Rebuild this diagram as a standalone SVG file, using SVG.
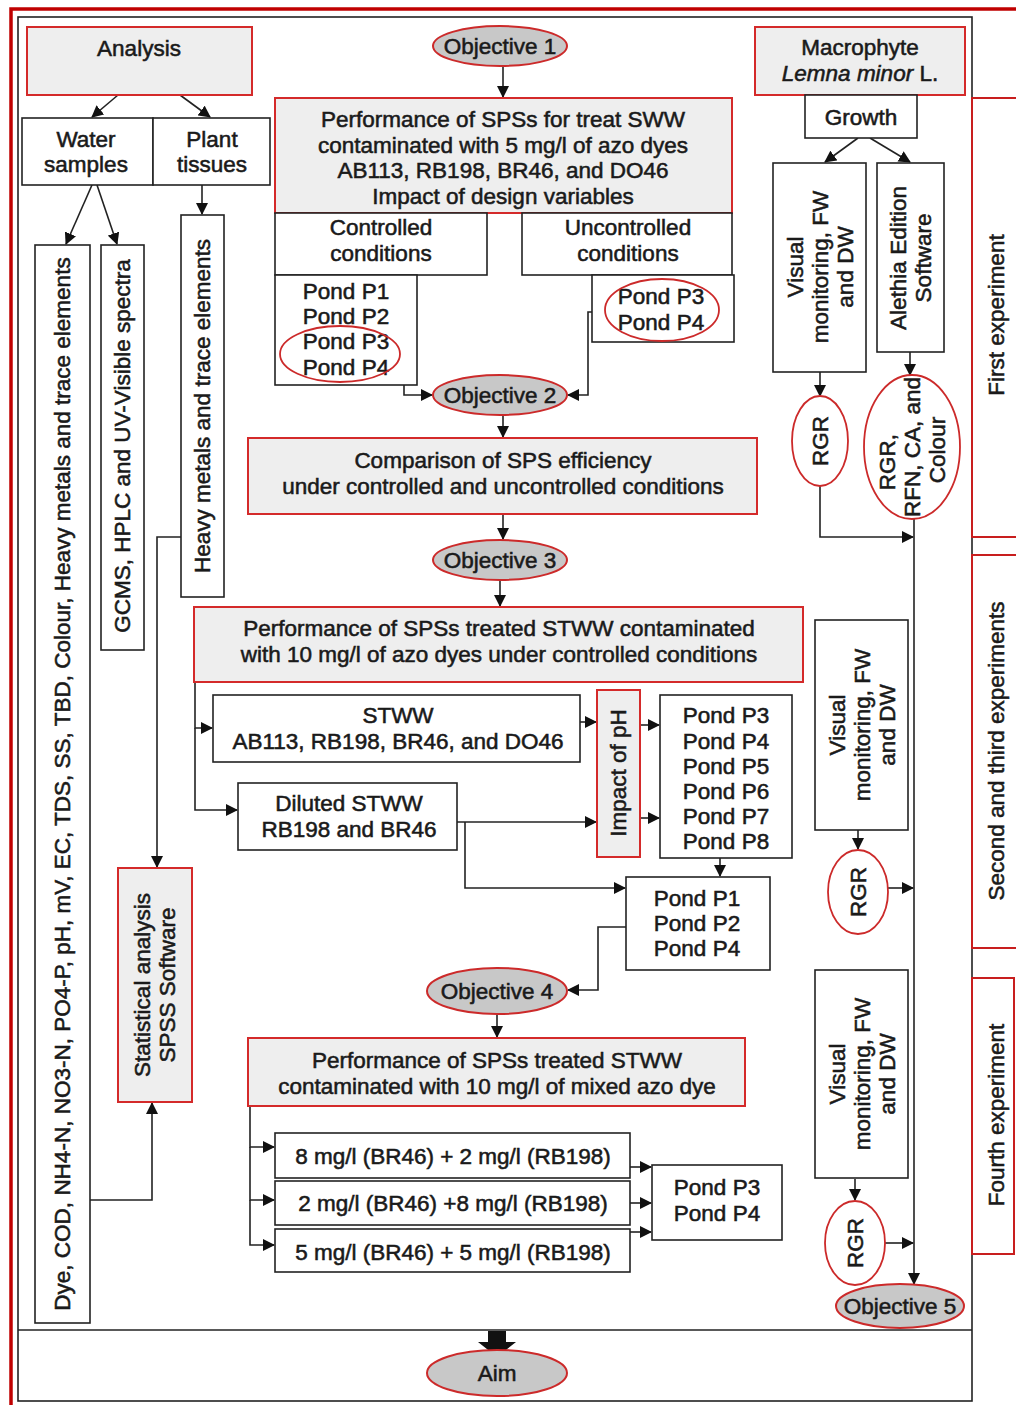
<svg xmlns="http://www.w3.org/2000/svg" width="1016" height="1405" viewBox="0 0 1016 1405">
<style>
text{font-family:"Liberation Sans",Arial,sans-serif;font-size:22.5px;fill:#1a1a1a;stroke:#1a1a1a;stroke-width:0.55;text-anchor:middle}
.box{fill:#fff;stroke:#222;stroke-width:1.6}
.rbox{fill:#eeeeee;stroke:#d42a2a;stroke-width:2}
.obj{fill:#c8c8c8;stroke:#cc2a2a;stroke-width:2}
.rell{fill:none;stroke:#cc2a2a;stroke-width:1.8}
.rell2{fill:#fff;stroke:#cc2a2a;stroke-width:1.8}
.ln{fill:none;stroke:#222;stroke-width:1.6;marker-end:url(#ah)}
.frame{fill:none;stroke:#222;stroke-width:1.6}
.red{fill:none;stroke:#c81e1e;stroke-width:2}
</style>
<defs>
<marker id="ah" markerUnits="userSpaceOnUse" markerWidth="12" markerHeight="12" refX="11" refY="6" orient="auto">
<path d="M0,0 L12,6 L0,12 z" fill="#111"/>
</marker>
</defs>
<rect width="1016" height="1405" fill="#fff"/>
<g id="frame">
<path d="M11,1405 V9 H1016" fill="none" stroke="#c00000" stroke-width="3.5"/>
<rect class="frame" x="18" y="17" width="954" height="1384"/>
<line class="frame" x1="18" y1="1330" x2="972" y2="1330"/>
</g>
<g id="exp1"><rect class="red" x="972" y="98" width="60" height="439"/><text transform="translate(996,315) rotate(-90)" y="8" font-size="21">First experiment</text></g>
<g id="exp2"><rect class="red" x="972" y="555" width="60" height="393"/><text transform="translate(996,751) rotate(-90)" y="8" font-size="21">Second and third experiments</text></g>
<g id="exp3"><rect class="red" x="972" y="978" width="42" height="276"/><text transform="translate(996,1115) rotate(-90)" y="8" font-size="21">Fourth experiment</text></g>

<g id="connectors">
<path class="ln" d="M118,95 L92,117"/>
<path class="ln" d="M180,95 L210,117"/>
<path class="ln" d="M92,185 L66,244"/>
<path class="ln" d="M97,185 L117,244"/>
<path class="ln" d="M202,185 L202,214"/>
<path class="ln" d="M181,537 L157,537 L157,867"/>
<path class="ln" d="M90,1200 L152,1200 L152,1103"/>
<path class="ln" d="M503,66 L503,97"/>
<path class="ln" d="M398,345 L404,345 L404,395 L432,395"/>
<path class="ln" d="M605,312 L588,312 L588,395 L568,395"/>
<path class="ln" d="M503,415 L503,437"/>
<path class="ln" d="M503,514 L503,539"/>
<path class="ln" d="M500,580 L500,606"/>
<path class="ln" d="M195,682 L195,728 L212,728"/>
<path class="ln" d="M195,728 L195,810 L237,810"/>
<path class="ln" d="M580,722 L596,722"/>
<path class="ln" d="M457,822 L596,822"/>
<path class="ln" d="M640,725 L659,725"/>
<path class="ln" d="M640,818 L659,818"/>
<path class="ln" d="M465,822 L465,888 L625,888"/>
<path class="ln" d="M720,858 L720,876"/>
<path class="ln" d="M626,927 L598,927 L598,990 L568,990"/>
<path class="ln" d="M497,1014 L497,1037"/>
<path class="ln" d="M250,1106 L250,1147 L274,1147"/>
<path class="ln" d="M250,1147 L250,1200 L274,1200"/>
<path class="ln" d="M250,1200 L250,1245 L274,1245"/>
<path class="ln" d="M630,1167 L651,1167"/>
<path class="ln" d="M630,1203 L651,1203"/>
<path class="ln" d="M630,1232 L651,1232"/>
<path class="ln" d="M858,138 L825,162"/>
<path class="ln" d="M870,138 L910,162"/>
<path class="ln" d="M820,372 L820,396"/>
<path class="ln" d="M910,352 L910,375"/>
<path class="ln" d="M820,486 L820,537 L913,537"/>
<path class="ln" d="M914,519 L914,1284"/>
<path class="ln" d="M858,830 L858,849"/>
<path class="ln" d="M888,888 L913,888"/>
<path class="ln" d="M855,1179 L855,1200"/>
<path class="ln" d="M885,1243 L913,1243"/>
<path d="M488,1331 H506 V1342 H516 L497,1357 L478,1342 H488 Z" fill="#111"/>
</g>

<g id="analysis"><rect class="rbox" x="27" y="27" width="225" height="68"/><text x="139" y="56">Analysis</text></g>
<g id="water"><rect class="box" x="22" y="118" width="131" height="67"/><text x="86" y="147">Water</text><text x="86" y="172">samples</text></g>
<g id="plant"><rect class="box" x="153" y="118" width="117" height="67"/><text x="212" y="147">Plant</text><text x="212" y="172">tissues</text></g>
<g id="waterparams"><rect class="box" x="35" y="245" width="55" height="1078"/><text transform="translate(62,784) rotate(-90)" y="8">Dye, COD, NH4-N, NO3-N, PO4-P, pH, mV, EC, TDS, SS, TBD, Colour, Heavy metals and trace elements</text></g>
<g id="gcms"><rect class="box" x="101" y="245" width="43" height="405"/><text transform="translate(122,446) rotate(-90)" y="8">GCMS, HPLC and UV-Visible spectra</text></g>
<g id="heavy"><rect class="box" x="181" y="215" width="43" height="382"/><text transform="translate(202,406) rotate(-90)" y="8">Heavy metals and trace elements</text></g>
<g id="stats"><rect class="rbox" x="118" y="868" width="74" height="234"/><text transform="translate(154,985) rotate(-90)" y="-4">Statistical analysis</text><text transform="translate(154,985) rotate(-90)" y="21">SPSS Software</text></g>

<g id="obj1"><ellipse class="obj" cx="500" cy="46" rx="67" ry="20"/><text x="500" y="54">Objective 1</text></g>
<g id="perf1"><rect class="rbox" x="275" y="98" width="457" height="115"/><text x="503" y="127">Performance of SPSs for treat SWW</text><text x="503" y="153">contaminated with 5 mg/l of azo dyes</text><text x="503" y="178">AB113, RB198, BR46, and DO46</text><text x="503" y="204">Impact of design variables</text></g>
<g id="controlled"><rect class="box" x="275" y="213" width="212" height="62"/><text x="381" y="235">Controlled</text><text x="381" y="261">conditions</text></g>
<g id="uncontrolled"><rect class="box" x="522" y="213" width="210" height="62"/><text x="628" y="235">Uncontrolled</text><text x="628" y="261">conditions</text></g>
<g id="pondsC"><rect class="box" x="275" y="275" width="142" height="110"/><text x="346" y="299">Pond P1</text><text x="346" y="324">Pond P2</text><text x="346" y="349">Pond P3</text><text x="346" y="375">Pond P4</text><ellipse class="rell" cx="340" cy="354" rx="60" ry="28"/></g>
<g id="pondsU"><rect class="box" x="592" y="275" width="142" height="67"/><text x="661" y="304">Pond P3</text><text x="661" y="330">Pond P4</text><ellipse class="rell" cx="662" cy="310" rx="57" ry="31"/></g>
<g id="obj2"><ellipse class="obj" cx="500" cy="395" rx="67" ry="20"/><text x="500" y="403">Objective 2</text></g>
<g id="comparison"><rect class="rbox" x="248" y="438" width="509" height="76"/><text x="503" y="468">Comparison of SPS efficiency</text><text x="503" y="494">under controlled and uncontrolled conditions</text></g>
<g id="obj3"><ellipse class="obj" cx="500" cy="560" rx="67" ry="20"/><text x="500" y="568">Objective 3</text></g>
<g id="perf3"><rect class="rbox" x="194" y="607" width="609" height="75"/><text x="499" y="636">Performance of SPSs treated STWW contaminated</text><text x="499" y="662">with 10 mg/l of azo dyes under controlled conditions</text></g>
<g id="stww"><rect class="box" x="213" y="695" width="367" height="67"/><text x="398" y="723">STWW</text><text x="398" y="749">AB113, RB198, BR46, and DO46</text></g>
<g id="diluted"><rect class="box" x="238" y="783" width="219" height="67"/><text x="349" y="811">Diluted STWW</text><text x="349" y="837">RB198 and BR46</text></g>
<g id="ph"><rect class="rbox" x="597" y="690" width="43" height="167"/><text transform="translate(618,773) rotate(-90)" y="8">Impact of pH</text></g>
<g id="ponds38"><rect class="box" x="660" y="695" width="132" height="163"/><text x="726" y="723">Pond P3</text><text x="726" y="749">Pond P4</text><text x="726" y="774">Pond P5</text><text x="726" y="799">Pond P6</text><text x="726" y="824">Pond P7</text><text x="726" y="849">Pond P8</text></g>
<g id="ponds124"><rect class="box" x="626" y="877" width="144" height="93"/><text x="697" y="906">Pond P1</text><text x="697" y="931">Pond P2</text><text x="697" y="956">Pond P4</text></g>
<g id="obj4"><ellipse class="obj" cx="497" cy="991" rx="70" ry="23"/><text x="497" y="999">Objective 4</text></g>
<g id="perf4"><rect class="rbox" x="248" y="1038" width="497" height="68"/><text x="497" y="1068">Performance of SPSs treated STWW</text><text x="497" y="1094">contaminated with 10 mg/l of mixed azo dye</text></g>
<g id="mix1"><rect class="box" x="275" y="1133" width="355" height="45"/><text x="453" y="1164">8 mg/l (BR46) + 2 mg/l (RB198)</text></g>
<g id="mix2"><rect class="box" x="275" y="1181" width="355" height="44"/><text x="453" y="1211">2 mg/l (BR46) +8 mg/l (RB198)</text></g>
<g id="mix3"><rect class="box" x="275" y="1229" width="355" height="43"/><text x="453" y="1260">5 mg/l (BR46) + 5 mg/l (RB198)</text></g>
<g id="ponds34"><rect class="box" x="652" y="1165" width="130" height="75"/><text x="717" y="1195">Pond P3</text><text x="717" y="1221">Pond P4</text></g>

<g id="macrophyte"><rect class="rbox" x="755" y="27" width="210" height="68"/><text x="860" y="55">Macrophyte</text><text x="860" y="81"><tspan font-style="italic">Lemna minor</tspan> L.</text></g>
<g id="growth"><rect class="box" x="805" y="95" width="112" height="43"/><text x="861" y="125">Growth</text></g>
<g id="visual1"><rect class="box" x="773" y="163" width="93" height="209"/><text transform="translate(820,267) rotate(-90)" y="-17">Visual</text><text transform="translate(820,267) rotate(-90)" y="8">monitoring, FW</text><text transform="translate(820,267) rotate(-90)" y="33">and DW</text></g>
<g id="alethia"><rect class="box" x="877" y="163" width="67" height="189"/><text transform="translate(910,258) rotate(-90)" y="-4">Alethia Edition</text><text transform="translate(910,258) rotate(-90)" y="21">Software</text></g>
<g id="rgr1"><ellipse class="rell2" cx="820" cy="441" rx="28" ry="45"/><text transform="translate(820,441) rotate(-90)" y="8">RGR</text></g>
<g id="rgrbig"><ellipse class="rell2" cx="912" cy="447" rx="48" ry="72"/><text transform="translate(912,462) rotate(-90)" y="-17">RGR,</text><text transform="translate(912,447) rotate(-90)" y="8">RFN, CA, and</text><text transform="translate(912,450) rotate(-90)" y="33">Colour</text></g>
<g id="visual2"><rect class="box" x="815" y="620" width="93" height="210"/><text transform="translate(862,725) rotate(-90)" y="-17">Visual</text><text transform="translate(862,725) rotate(-90)" y="8">monitoring, FW</text><text transform="translate(862,725) rotate(-90)" y="33">and DW</text></g>
<g id="rgr2"><ellipse class="rell2" cx="858" cy="892" rx="30" ry="42"/><text transform="translate(858,892) rotate(-90)" y="8">RGR</text></g>
<g id="visual3"><rect class="box" x="815" y="970" width="93" height="208"/><text transform="translate(862,1074) rotate(-90)" y="-17">Visual</text><text transform="translate(862,1074) rotate(-90)" y="8">monitoring, FW</text><text transform="translate(862,1074) rotate(-90)" y="33">and DW</text></g>
<g id="rgr3"><ellipse class="rell2" cx="855" cy="1243" rx="30" ry="42"/><text transform="translate(855,1243) rotate(-90)" y="8">RGR</text></g>
<g id="obj5"><ellipse class="obj" cx="900" cy="1306" rx="64" ry="22"/><text x="900" y="1314">Objective 5</text></g>
<g id="aim"><ellipse class="obj" cx="497" cy="1373" rx="70" ry="23"/><text x="497" y="1381">Aim</text></g>
</svg>
